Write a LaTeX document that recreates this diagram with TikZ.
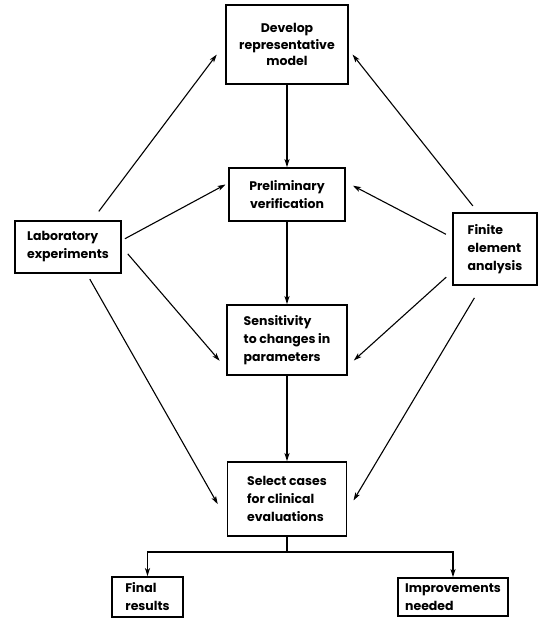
\documentclass[tikz,border=0pt]{standalone}
\usepackage{fontspec}
\setmainfont{Poppins}
\usetikzlibrary{arrows.meta}
\begin{document}
\begin{tikzpicture}[x=1pt,y=-1pt,
  box/.style={draw, line width=1.7pt, inner sep=0pt, font=\fontsize{12.5}{18}\selectfont\bfseries},
  tight/.style={font=\fontsize{12.5}{16.5}\selectfont\bfseries},
  tip/.style={-{Stealth[length=8pt,width=5pt,inset=2pt]}},
  varr/.style={tip, line width=1.3pt},
  darr/.style={tip, line width=1.1pt},
  sline/.style={line width=1.3pt}]
\useasboundingbox (0,0) rectangle (542,619);
% boxes
\node[box, tight, align=center, minimum width=122pt, minimum height=79pt] (dev) at (287,44.5) {Develop\\representative\\model};
\node[box, align=center, minimum width=116pt, minimum height=53pt] (pre) at (287,194.5) {Preliminary\\verification};
\node[box, align=left, minimum width=120pt, minimum height=70pt] (sen) at (287,340) {Sensitivity\\to changes in\\parameters};
\node[box, align=left, minimum width=119pt, minimum height=74pt] (sel) at (287,499) {Select cases\\for clinical\\evaluations};
\node[box, align=left, minimum width=106pt, minimum height=52pt] (lab) at (68,247) {Laboratory\\experiments};
\node[box, align=left, minimum width=84pt, minimum height=72pt] (fin) at (495,249) {Finite\\element\\analysis};
\node[box, align=left, minimum width=71pt, minimum height=40pt] (finr) at (147.5,597) {Final\\results};
\node[box, align=left, minimum width=110pt, minimum height=38pt] (imp) at (453,597) {Improvements\\needed};
\coordinate (jn) at (287,552);
% vertical spine
\draw[varr] (dev.south) -- (pre.north);
\draw[varr] (pre.south) -- (sen.north);
\draw[varr] (sen.south) -- (sel.north);
\draw[sline] (sel.south) -- (jn);
\draw[varr] (jn) -| (finr.north);
\draw[varr] (jn) -| (imp.north);
% from laboratory experiments
\draw[darr, shorten <=11pt, shorten >=14pt] (lab.48) -- (dev.179);
\draw[darr, shorten <=3.5pt, shorten >=3pt] (lab.7) -- (pre.169);
\draw[darr, shorten <=9pt, shorten >=10pt] (lab.0) -- (sen.205);
\draw[darr, shorten <=6pt, shorten >=18pt] (lab.305) -- (sel.199);
% from finite element analysis
\draw[darr, shorten <=8pt, shorten >=6pt] (fin.115) -- (dev.355);
\draw[darr, shorten <=7pt, shorten >=8pt] (fin.165) -- (pre.12);
\draw[darr, shorten <=8pt, shorten >=8pt] (fin.208) -- (sen.337);
\draw[darr, shorten <=14pt, shorten >=12pt] (fin.250) -- (sel.349);
\end{tikzpicture}
\end{document}
